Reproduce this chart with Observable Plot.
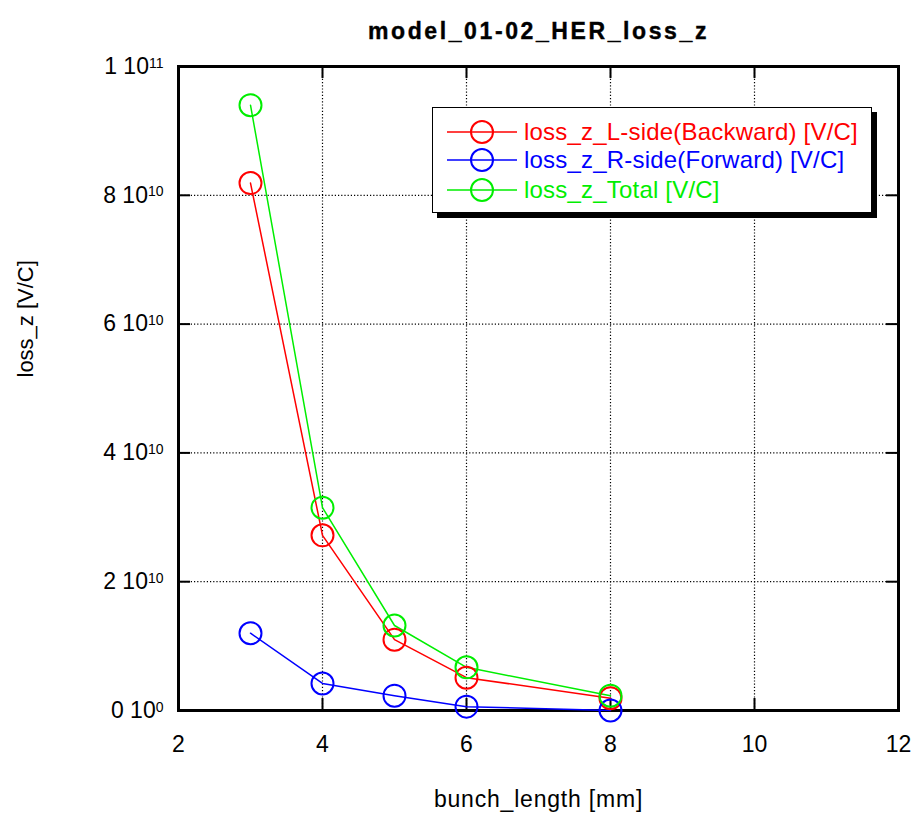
<!DOCTYPE html>
<html><head><meta charset="utf-8">
<script src="https://cdn.jsdelivr.net/npm/d3@7"></script>
<script src="https://cdn.jsdelivr.net/npm/@observablehq/plot@0.6"></script>
<style>
body{margin:0;background:#fff;font-family:"Liberation Sans",Arial,sans-serif;}
#wrap{position:relative;width:915px;height:822px;}
#legend{position:absolute;left:432px;top:107px;width:440px;height:106px;box-sizing:border-box;border:1.5px solid #000;background:#fff;box-shadow:5px 5px 0 #000;}
.row{position:absolute;left:13px;height:28px;display:flex;align-items:center;font-size:24px;letter-spacing:0.2px;white-space:nowrap;}
.row svg{margin-right:6px;}
</style></head><body><div id="wrap"></div>
<script>
const titleText = "model_01-02_HER_loss_z";
const xLabel = "bunch_length [mm]";
const yLabel = "loss_z [V/C]";
const bunchLength = [3, 4, 5, 6, 8];
const lossL = [8.19e10, 2.72e10, 1.10e10, 0.51e10, 0.19e10];
const lossR = [1.20e10, 0.42e10, 0.23e10, 0.06e10, 0.0];
const lossTotal = [9.40e10, 3.15e10, 1.32e10, 0.67e10, 0.23e10];
const seriesNames = ["loss_z_L-side(Backward) [V/C]", "loss_z_R-side(Forward) [V/C]", "loss_z_Total [V/C]"];
const seriesColors = ["#ff0000", "#0000ff", "#00ee00"];
const xTicks = [2, 4, 6, 8, 10, 12];
const yTicks = [0, 2e10, 4e10, 6e10, 8e10, 1e11];
const yTickMantissa = ["0", "2", "4", "6", "8", "1"];
const yTickExponent = ["0", "10", "10", "10", "10", "11"];

const data = [];
[lossL, lossR, lossTotal].forEach((arr, i) => bunchLength.forEach((x, j) => data.push({x, y: arr[j], s: seriesNames[i]})));

const W = 915, H = 822, mL = 178, mR = 17, mT = 66, mB = 112;
const innerW = W - mL - mR, innerH = H - mT - mB;
const ff = '"Liberation Sans", Arial, sans-serif';

const chart = Plot.plot({
  width: W, height: H, marginLeft: mL, marginRight: mR, marginTop: mT, marginBottom: mB,
  style: {fontFamily: ff, fontSize: "23px", color: "#000", background: "#fff"},
  x: {domain: [2, 12], label: null},
  y: {domain: [0, 1e11], label: null},
  color: {domain: seriesNames, range: seriesColors},
  marks: [
    Plot.gridX(xTicks.slice(1, -1), {stroke: "#000", strokeOpacity: 1, strokeDasharray: "1.2,2", strokeWidth: 1.2}),
    Plot.gridY(yTicks.slice(1, -1), {stroke: "#000", strokeOpacity: 1, strokeDasharray: "1.2,2", strokeWidth: 1.2}),
    Plot.tickX(xTicks, {x: d => d, insetBottom: innerH - 12, stroke: "#000", strokeWidth: 2}),
    Plot.tickX(xTicks, {x: d => d, insetTop: innerH - 12, stroke: "#000", strokeWidth: 2}),
    Plot.tickY(yTicks, {y: d => d, insetRight: innerW - 12, stroke: "#000", strokeWidth: 2}),
    Plot.tickY(yTicks, {y: d => d, insetLeft: innerW - 12, stroke: "#000", strokeWidth: 2}),
    Plot.axisX(xTicks, {tickSize: 0, tickPadding: 25, fontSize: 23, label: null}),
    Plot.axisY(yTicks, {tickSize: 0, tickPadding: 15, fontSize: 23, label: null,
      tickFormat: d => yTickMantissa[yTicks.indexOf(d)] + " 10" + yTickExponent[yTicks.indexOf(d)]}),
    Plot.frame({stroke: "#000", strokeWidth: 3}),
    Plot.line(data, {x: "x", y: "y", z: "s", stroke: "s", strokeWidth: 1.5}),
    Plot.dot(data, {x: "x", y: "y", stroke: "s", r: 11, strokeWidth: 2, fill: "none"}),
    Plot.text([titleText], {text: d => d, frameAnchor: "top", dy: -44, fontWeight: "bold", fontSize: 23}),
    Plot.text([xLabel], {text: d => d, frameAnchor: "bottom", dy: 96, fontSize: 23}),
    Plot.text([yLabel], {text: d => d, frameAnchor: "left", dx: -153, dy: -11, rotate: -90, fontSize: 22})
  ]
});

const svg = d3.select(chart);
svg.selectAll("text").filter(function() { return this.textContent === titleText; })
  .attr("letter-spacing", "2.6px").attr("stroke", "#000").attr("stroke-width", 0.4);
svg.selectAll("text").filter(function() { return this.textContent === xLabel; })
  .attr("letter-spacing", "0.8px");
svg.selectAll('g[aria-label="y-axis tick label"] text').each(function(d, i) {
  const t = d3.select(this);
  const idx = yTicks.indexOf(d);
  const k = idx >= 0 ? idx : i;
  t.text(null);
  t.append("tspan").text(yTickMantissa[k] + " 10");
  t.append("tspan").attr("dy", "-0.45em").attr("font-size", "14px").text(yTickExponent[k]);
});

const wrap = document.getElementById("wrap");
wrap.appendChild(chart);

const legend = document.createElement("div");
legend.id = "legend";
const rowCenters = [25, 53, 83];
seriesNames.forEach((name, i) => {
  const row = document.createElement("div");
  row.className = "row";
  row.style.top = (rowCenters[i] - 14 - 1.5) + "px";
  row.style.color = seriesColors[i];
  row.innerHTML = `<svg width="72" height="28"><line x1="1" y1="14" x2="71" y2="14" stroke="${seriesColors[i]}" stroke-width="1.5"/><circle cx="36" cy="14" r="11" fill="none" stroke="${seriesColors[i]}" stroke-width="2"/></svg><span>${name}</span>`;
  legend.appendChild(row);
});
wrap.appendChild(legend);
</script></body></html>
